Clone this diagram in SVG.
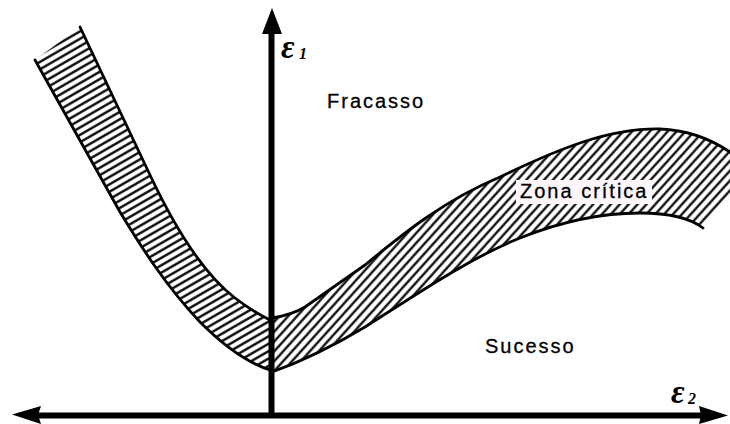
<svg xmlns="http://www.w3.org/2000/svg" width="730" height="424" viewBox="0 0 730 424">
<style>
.band{stroke:none}
.edge{fill:none;stroke:#000;stroke-width:2.8;stroke-linejoin:round;stroke-linecap:round}
.axis{stroke:#000;stroke-width:6;fill:none}
.head{fill:#000}
.lbl{font-family:"Liberation Sans",Arial,sans-serif;font-size:20px;letter-spacing:2px;fill:#000;stroke:#000;stroke-width:0.3}
.eps{font-family:"Liberation Serif","Times New Roman",serif;font-style:italic;font-weight:bold;fill:#000}
</style>
<defs>
<pattern id="hatchL" patternUnits="userSpaceOnUse" width="10" height="6.4" patternTransform="rotate(-30)">
<rect width="10" height="6.4" fill="#fff"/>
<line x1="0" y1="3.2" x2="10" y2="3.2" stroke="#000" stroke-width="2.3"/>
</pattern>
<pattern id="hatchR" patternUnits="userSpaceOnUse" width="10" height="6.6" patternTransform="rotate(-48)">
<rect width="10" height="6.6" fill="#fff"/>
<line x1="0" y1="3.3" x2="10" y2="3.3" stroke="#000" stroke-width="2.2"/>
</pattern>
</defs>
<rect width="730" height="424" fill="#fff"/>

<g id="band-left">
<path class="band" fill="url(#hatchL)" d="M80,27 L150,175 C175,228 205,275 235,298 C248,308 258,314 270,320 L270,370 C245,362 220,342 200,322 C165,285 140,245 120,212 L35,60 Z"/>
<path class="edge" d="M80,27 L150,175 C175,228 205,275 235,298 C248,308 258,314 270,320"/>
<path class="edge" d="M35,60 L120,212 C140,245 165,285 200,322 C220,342 245,362 270,370"/>
</g>

<g id="band-right">
<path class="band" fill="url(#hatchR)" d="M272,318 C285,316 295,313 305,307 L365,265 C405,232 445,200 500,177 C560,148 610,128 660,129 C690,130 712,140 730,152 L730,195 L703,228 C690,218 670,213 640,213 C600,213 560,222 520,238 C470,258 420,292 365,327 C330,348 300,362 272,372 Z"/>
<path class="edge" d="M272,318 C285,316 295,313 305,307 L365,265 C405,232 445,200 500,177 C560,148 610,128 660,129 C690,130 712,140 730,152"/>
<path class="edge" d="M703,228 C690,218 670,213 640,213 C600,213 560,222 520,238 C470,258 420,292 365,327 C330,348 300,362 272,372"/>
</g>

<g id="axes">
<line class="axis" x1="271.5" y1="30" x2="271.5" y2="418"/>
<path class="head" d="M272,8 L282,34 L262,34 Z"/>
<line class="axis" x1="36" y1="415.5" x2="702" y2="415.5"/>
<path class="head" d="M12,414.5 L41,406 L38,415 L41,424 Z"/>
<path class="head" d="M728,415.5 L699,406 L701,415.5 L699,424 Z"/>
</g>

<g id="label-zona">
<rect x="516" y="180" width="136" height="24" fill="#fdf6fd"/>
<text class="lbl" x="520" y="198">Zona crítica</text>
</g>
<g id="label-fracasso"><text class="lbl" x="327" y="108">Fracasso</text></g>
<g id="label-sucesso"><text class="lbl" x="485" y="353">Sucesso</text></g>

<g id="label-e1">
<text class="eps" x="281" y="58" font-size="33">ε</text>
<text class="eps" x="299" y="59" font-size="16">1</text>
</g>
<g id="label-e2">
<text class="eps" x="671" y="403" font-size="33">ε</text>
<text class="eps" x="688" y="404" font-size="16">2</text>
</g>
</svg>
